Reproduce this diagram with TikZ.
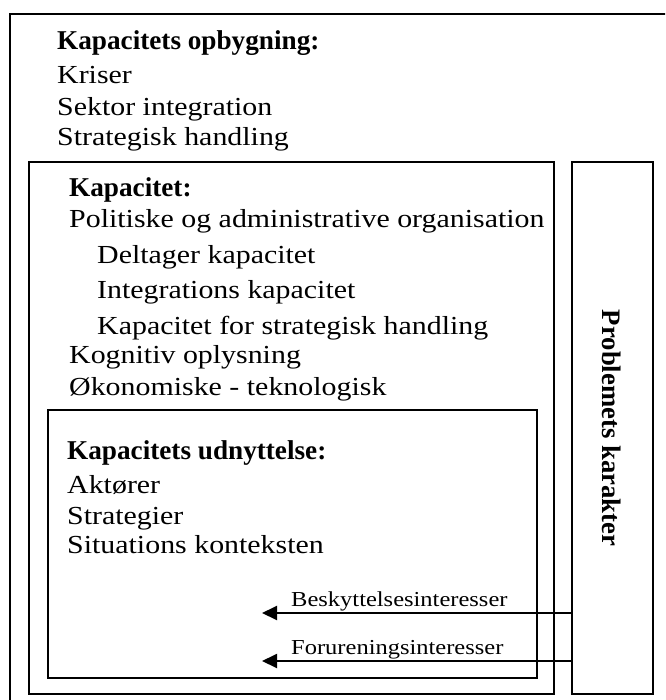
\documentclass[tikz,border=0pt]{standalone}
\usepackage{fontspec}
\setmainfont{Liberation Serif}[FakeStretch=1.15, BoldFeatures={FakeStretch=1.0}]
\usetikzlibrary{arrows.meta}
\tikzset{
  frame/.style={draw, line width=1.9pt, inner sep=0pt, anchor=north west},
  txt/.style={anchor=base west, inner sep=0pt, font=\fontsize{26}{31}\selectfont},
  head/.style={anchor=base west, inner sep=0pt, font=\fontsize{27.2}{32}\selectfont\bfseries},
  lbl/.style={anchor=base west, inner sep=0pt, font=\fontsize{21.3}{25}\selectfont},
  flow/.style={line width=1.9pt, -{Triangle[length=15pt,width=14pt]}}
}
\begin{document}
\begin{tikzpicture}[x=1pt,y=-1pt]
\useasboundingbox (0,0) rectangle (665,700);
\clip (0,0) rectangle (665,700);

% frames
\node[frame, minimum width=700pt, minimum height=720pt] (outer) at (9,13) {};
\node[frame, minimum width=525pt, minimum height=532pt] (cap) at (28,161) {};
\node[frame, minimum width=489pt, minimum height=268pt] (use) at (47,409) {};
\node[frame, minimum width=81pt, minimum height=532pt] (prob) at (571,161) {};

% capacity building
\node[head] (t1) at (57,50) {Kapacitets opbygning:};
\node[txt] (t2) at (57,84) {Kriser};
\node[txt] (t3) at (57,116) {Sektor integration};
\node[txt] (t4) at (57,146) {Strategisk handling};

% capacity
\node[head] (c1) at (69,197) {Kapacitet:};
\node[txt] (c2) at (69,228) {Politiske og administrative organisation};
\node[txt] (c3) at (97,263) {Deltager kapacitet};
\node[txt] (c4) at (97,298) {Integrations kapacitet};
\node[txt] (c5) at (97,334) {Kapacitet for strategisk handling};
\node[txt] (c6) at (69,363) {Kognitiv oplysning};
\node[txt] (c7) at (69,395) {Økonomiske - teknologisk};

% use of capacity
\node[head] (u1) at (67,459) {Kapacitets udnyttelse:};
\node[txt] (u2) at (67,493) {Aktører};
\node[txt] (u3) at (67,524) {Strategier};
\node[txt] (u4) at (67,553) {Situations konteksten};

% problem character
\node[font=\fontsize{26.7}{32}\selectfont\bfseries, rotate=-90, inner sep=0pt] (pk) at (611.5,428) {Problemets karakter};

% interests
\coordinate (e1) at (262,613);
\coordinate (e2) at (262,661);
\draw[flow] (prob.west |- e1) -- (e1);
\draw[flow] (prob.west |- e2) -- (e2);
\node[lbl] (l1) at (291,606) {Beskyttelsesinteresser};
\node[lbl] (l2) at (291,654) {Forureningsinteresser};
\end{tikzpicture}
\end{document}
